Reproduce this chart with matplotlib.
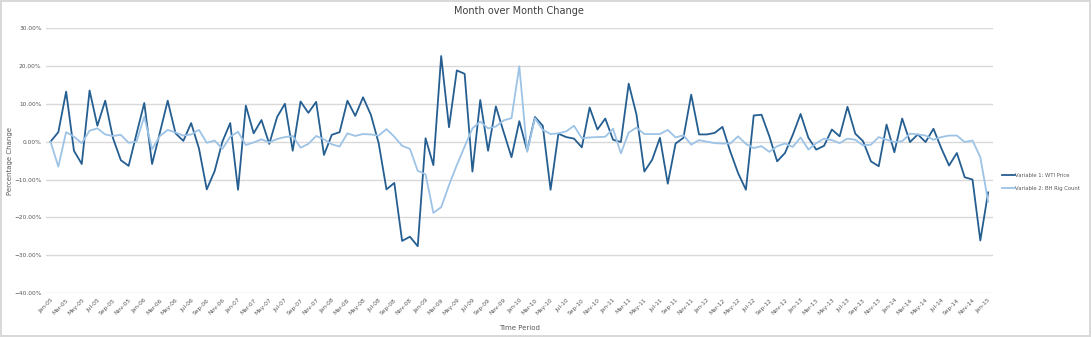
import matplotlib
matplotlib.use("Agg")
import matplotlib.pyplot as plt
import pandas as pd
from matplotlib.ticker import PercentFormatter

months = pd.date_range("2005-01-01", "2015-01-01", freq="MS")
tick_labels = [d.strftime("%b-%y") for d in months]

# month over month change, percent
wti_price = [
    0.0, 2.5, 13.2, -2.4, -5.9, 13.5, 4.2, 10.8, 0.9, -4.9, -6.4, 2.0,
    10.2, -5.9, 2.4, 10.8, 2.2, 0.2, 4.9, -1.8, -12.6, -7.8, 0.0, 4.9,
    -12.7, 9.5, 2.2, 5.7, -0.6, 6.5, 10.0, -2.4, 10.6, 7.6, 10.5, -3.5,
    1.8, 2.5, 10.8, 6.8, 11.7, 7.1, -0.4, -12.6, -10.9, -26.2, -25.1, -27.6,
    0.9, -6.2, 22.6, 3.8, 18.8, 17.9, -7.9, 11.0, -2.4, 9.3, 2.5, -4.1,
    5.4, -2.4, 6.5, 4.2, -12.7, 2.1, 1.2, 0.8, -1.5, 9.0, 3.2, 6.1,
    0.5, -0.1, 15.3, 7.1, -7.9, -4.8, 1.0, -11.1, -0.5, 1.0, 12.4, 1.9,
    1.9, 2.3, 3.9, -2.6, -8.3, -12.7, 6.9, 7.1, 1.4, -5.2, -3.0, 1.8,
    7.3, 1.0, -2.1, -1.1, 3.2, 1.4, 9.2, 2.1, 0.1, -5.2, -6.5, 4.5,
    -2.8, 6.1, -0.1, 1.9, -0.1, 3.4, -1.7, -6.3, -3.0, -9.4, -10.0, -26.1,
    -13.4,
]

bh_rig_count = [
    0.0, -6.6, 2.5, 1.3, -0.4, 2.9, 3.5, 1.9, 1.5, 1.8, -0.3, 0.0,
    6.6, -2.0, 1.5, 3.1, 2.4, 1.6, 1.9, 3.1, -0.3, 0.3, -1.9, 1.3,
    2.6, -0.9, -0.2, 0.6, -0.2, 0.7, 1.2, 1.5, -1.6, -0.6, 1.5, 0.6,
    -0.7, -1.3, 2.2, 1.5, 2.0, 1.9, 1.6, 3.3, 1.3, -1.1, -1.9, -7.7,
    -8.6, -18.8, -17.3, -11.5, -6.2, -1.3, 3.5, 5.3, 3.5, 4.0, 5.6, 6.2,
    19.9, -2.7, 6.2, 3.1, 2.0, 2.2, 2.7, 4.2, 0.9, 1.1, 1.2, 1.3,
    3.4, -3.1, 2.4, 3.7, 2.0, 2.0, 2.0, 3.1, 1.1, 1.7, -0.8, 0.4,
    0.0, -0.4, -0.5, -0.5, 1.4, -0.6, -1.7, -1.2, -2.7, -1.2, -0.5, -1.4,
    1.1, -2.1, -0.4, 0.8, 0.4, -0.4, 0.8, 0.5, -1.0, -0.8, 1.2, 0.5,
    -0.1, 0.1, 2.1, 1.9, 1.6, 0.5, 1.2, 1.6, 1.6, -0.1, 0.3, -4.1,
    -15.8,
]

label_color = "#595959"

fig = plt.figure(figsize=(10.91, 3.37), dpi=100)
fig.patch.set_edgecolor("#d9d9d9")
fig.patch.set_linewidth(1.5)

ax = fig.add_axes([0.042, 0.130, 0.868, 0.787])  # left, bottom, width, height

x = list(range(len(months)))
ax.plot(x, wti_price, color="#255e91", linewidth=1.3, label="Variable 1: WTI Price")
ax.plot(x, bh_rig_count, color="#9dc3e6", linewidth=1.3, label="Variable 2: BH Rig Count")

ax.set_ylim(-40, 30)
ax.set_yticks(range(-40, 31, 10))
ax.yaxis.set_major_formatter(PercentFormatter(decimals=2))
ax.set_xlim(-0.6, len(months) - 0.4)
ax.set_xticks(x[::2])
ax.set_xticklabels(tick_labels[::2], rotation=45, ha="right", rotation_mode="anchor")

ax.grid(axis="y", color="#d9d9d9", linewidth=1)
ax.set_axisbelow(True)
for side in ["top", "right", "left", "bottom"]:
    ax.spines[side].set_visible(False)
ax.tick_params(length=0, labelsize=4.2, colors=label_color, pad=3)

ax.set_title("Month over Month Change", fontsize=7, color="#404040", pad=10)
ax.set_xlabel("Time Period", fontsize=5, color=label_color, labelpad=6)
ax.set_ylabel("Percentage Change", fontsize=5, color=label_color)
ax.yaxis.set_label_coords(-0.035, 0.5)

ax.legend(loc="center left", bbox_to_anchor=(1.008, 0.42), borderaxespad=0,
          frameon=False, fontsize=3.8, labelcolor=label_color, handlelength=2.3,
          handletextpad=0.1, labelspacing=1.5)

fig.savefig("out.png", dpi=100)
